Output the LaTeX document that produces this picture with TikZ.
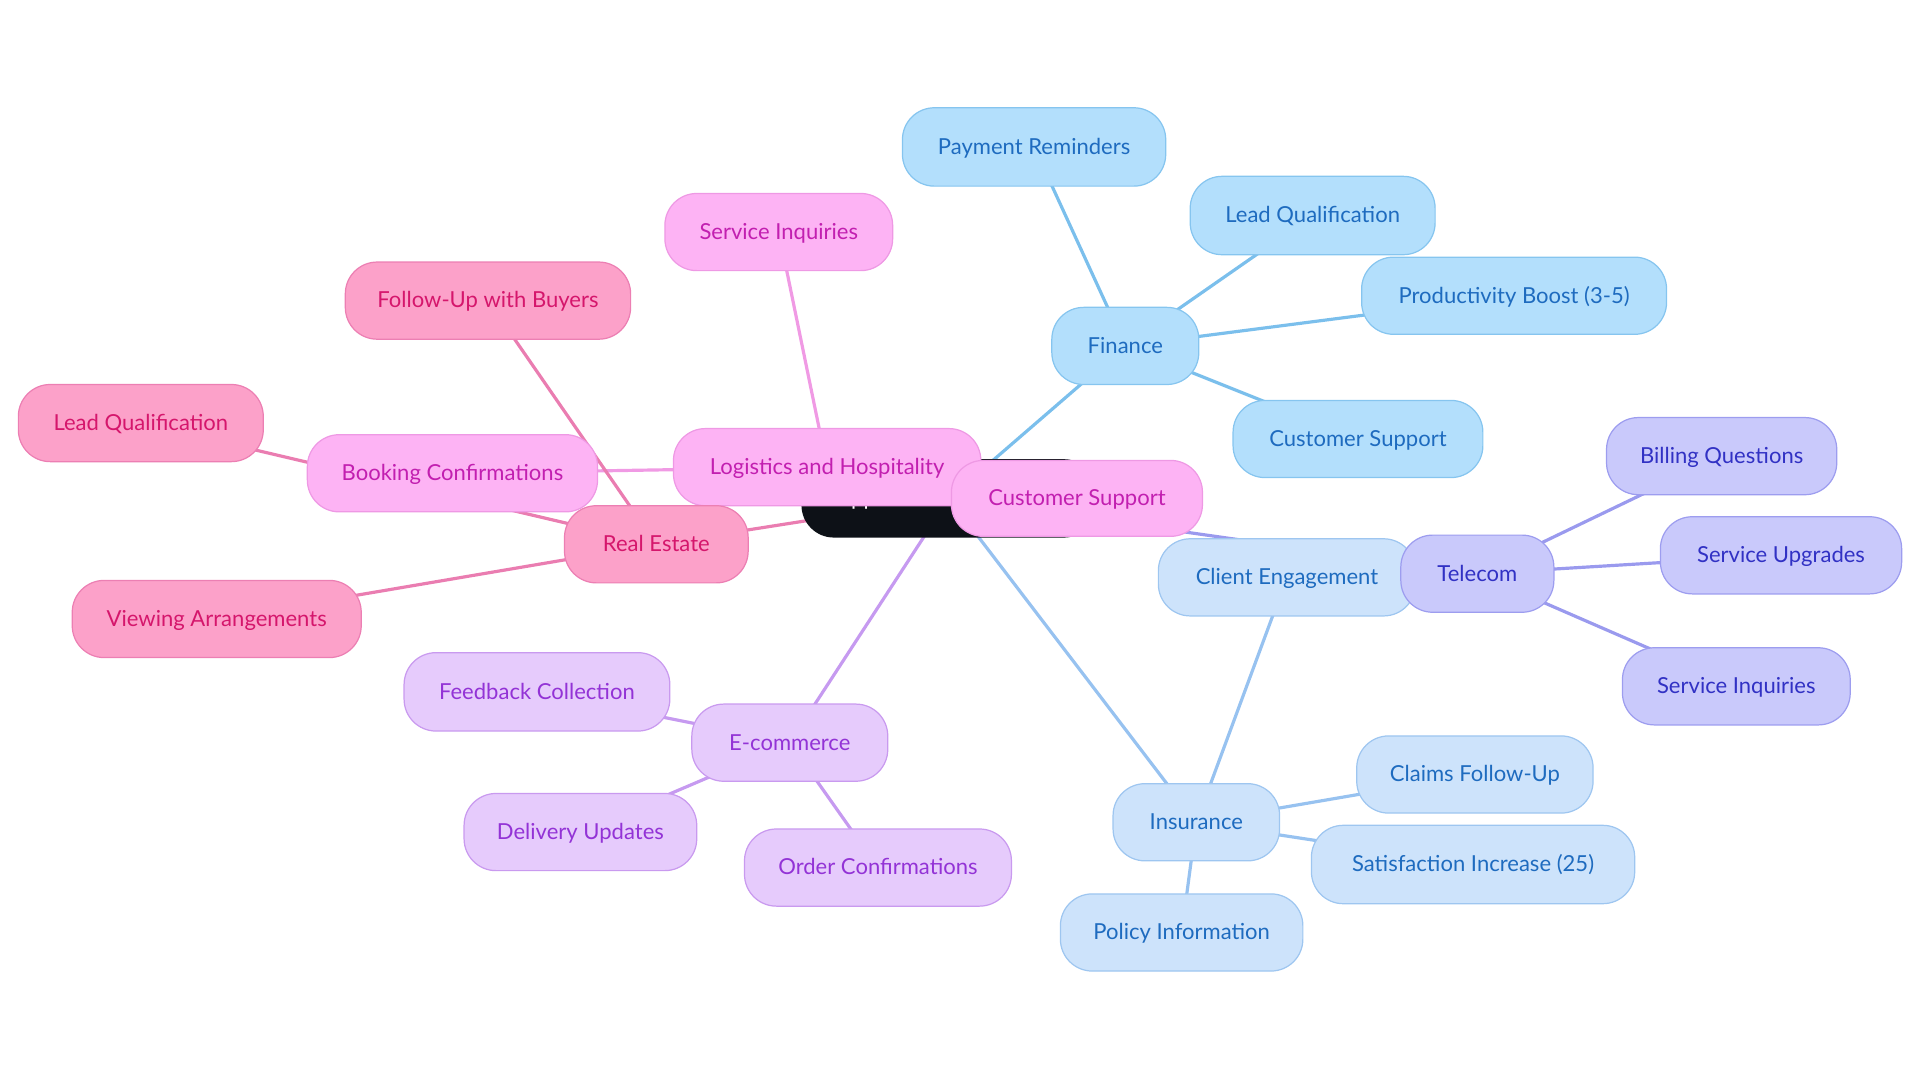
\documentclass[tikz,border=0pt]{standalone}
\usepackage{fontspec}
\setmainfont{Lato}
\pgfdeclarelayer{bg}
\pgfsetlayers{bg,main}
\definecolor{rootF}{HTML}{0D1117}
\definecolor{finF}{HTML}{B3DFFC}\definecolor{finB}{HTML}{86C5EF}\definecolor{finT}{HTML}{1E6BBF}\definecolor{finE}{HTML}{7BBFEC}
\definecolor{insF}{HTML}{CDE3FB}\definecolor{insB}{HTML}{9EC6F0}\definecolor{insT}{HTML}{1E6BBF}\definecolor{insE}{HTML}{97C2F0}
\definecolor{telF}{HTML}{C9C9FB}\definecolor{telB}{HTML}{9D9DEF}\definecolor{telT}{HTML}{3131C4}\definecolor{telE}{HTML}{9A9AEE}
\definecolor{ecoF}{HTML}{E6CBFC}\definecolor{ecoB}{HTML}{C99AEF}\definecolor{ecoT}{HTML}{9333D6}\definecolor{ecoE}{HTML}{C69AF0}
\definecolor{logF}{HTML}{FDB3F4}\definecolor{logB}{HTML}{EE99E4}\definecolor{logT}{HTML}{C21FB0}\definecolor{logE}{HTML}{F09AE4}
\definecolor{reF}{HTML}{FCA1C9}\definecolor{reB}{HTML}{EC7FB3}\definecolor{reT}{HTML}{D5166C}\definecolor{reE}{HTML}{EA7DB1}
\tikzset{
  mm/.style={draw, rounded corners=26pt, line width=1pt, minimum height=63pt, inner sep=0pt,
    text height=14pt, text depth=2pt,
    font=\fontsize{18}{20}\selectfont, align=center},
  rootbox/.style={mm, fill=rootF, draw=rootF, text=white},
  finbox/.style={mm, fill=finF, draw=finB, text=finT},
  insbox/.style={mm, fill=insF, draw=insB, text=insT},
  telbox/.style={mm, fill=telF, draw=telB, text=telT},
  ecobox/.style={mm, fill=ecoF, draw=ecoB, text=ecoT},
  logbox/.style={mm, fill=logF, draw=logB, text=logT},
  rebox/.style={mm, fill=reF, draw=reB, text=reT},
  link/.style={line width=2.6pt},
}
\begin{document}
\begin{tikzpicture}[x=1pt,y=-1pt]
\useasboundingbox (0,0) rectangle (1568,884.4);
% root
\node[rootbox, minimum width=240pt, text width=184pt, align=left] (root) at (775,407) {Applications};
% Finance
\node[finbox, minimum width=120pt] (fin) at (919,282.5) {Finance};
\node[finbox, minimum width=215pt, minimum height=64pt] (payrem) at (844.5,120) {Payment Reminders};
\node[finbox, minimum width=200pt, minimum height=64pt] (leadf) at (1072,176) {Lead Qualification};
\node[finbox, minimum width=249pt] (prod) at (1236.5,241.5) {Productivity Boost (3-5)};
\node[finbox, minimum width=204pt] (csf) at (1109,358.5) {Customer Support};
% Insurance
\node[insbox, minimum width=136pt] (ins) at (977,671.5) {Insurance};
\node[insbox, minimum width=210pt] (ce) at (1051,471.5) {Client Engagement};
\node[insbox, minimum width=193pt] (claims) at (1204.5,632.5) {Claims Follow-Up};
\node[insbox, minimum width=264pt, minimum height=64pt] (satis) at (1203,706) {Satisfaction Increase (25)};
\node[insbox, minimum width=198pt] (policy) at (965,761.5) {Policy Information};
% Telecom
\node[telbox, minimum width=125pt] (tel) at (1206.5,468.5) {Telecom};
\node[telbox, minimum width=188pt] (bill) at (1406,372.5) {Billing Questions};
\node[telbox, minimum width=197pt] (upg) at (1454.5,453.5) {Service Upgrades};
\node[telbox, minimum width=186pt] (telinq) at (1418,560.5) {Service Inquiries};
% E-commerce
\node[ecobox, minimum width=160pt] (eco) at (645,606.5) {E-commerce};
\node[ecobox, minimum width=217pt, minimum height=64pt] (feed) at (438.5,565) {Feedback Collection};
\node[ecobox, minimum width=190pt] (deliv) at (474,679.5) {Delivery Updates};
\node[ecobox, minimum width=218pt] (order) at (717,708.5) {Order Confirmations};
% Logistics and Hospitality
\node[logbox, minimum width=251pt] (log) at (675.5,381.5) {Logistics and Hospitality};
\node[logbox, minimum width=186pt] (loginq) at (636,189.5) {Service Inquiries};
\node[logbox, minimum width=237pt] (book) at (369.5,386.5) {Booking Confirmations};
\node[logbox, minimum width=205pt, minimum height=62pt] (csl) at (879.5,407) {Customer Support};
% Real Estate
\node[rebox, minimum width=150pt] (re) at (536,444.5) {Real Estate};
\node[rebox, minimum width=233pt] (follow) at (398.5,245.5) {Follow-Up with Buyers};
\node[rebox, minimum width=200pt] (leadre) at (115,345.5) {Lead Qualification};
\node[rebox, minimum width=236pt] (view) at (177,505.5) {Viewing Arrangements};
% connectors
\begin{pgfonlayer}{bg}
\draw[link, finE] (root.center) -- (fin.center);
\draw[link, finE] (fin.center) -- (payrem.center);
\draw[link, finE] (fin.center) -- (leadf.center);
\draw[link, finE] (fin.center) -- (prod.center);
\draw[link, finE] (fin.center) -- (csf.center);
\draw[link, insE] (root.center) -- (ins.center);
\draw[link, insE] (ins.center) -- (ce.center);
\draw[link, insE] (ins.center) -- (claims.center);
\draw[link, insE] (ins.center) -- (satis.center);
\draw[link, insE] (ins.center) -- (policy.center);
\draw[link, telE] (root.center) -- (tel.center);
\draw[link, telE] (tel.center) -- (bill.center);
\draw[link, telE] (tel.center) -- (upg.center);
\draw[link, telE] (tel.center) -- (telinq.center);
\draw[link, ecoE] (root.center) -- (eco.center);
\draw[link, ecoE] (eco.center) -- (feed.center);
\draw[link, ecoE] (eco.center) -- (deliv.center);
\draw[link, ecoE] (eco.center) -- (order.center);
\draw[link, logE] (root.center) -- (log.center);
\draw[link, logE] (log.center) -- (loginq.center);
\draw[link, logE] (log.center) -- (book.center);
\draw[link, logE] (log.center) -- (csl.center);
\draw[link, reE] (root.center) -- (re.center);
\draw[link, reE] (re.center) -- (follow.center);
\draw[link, reE] (re.center) -- (leadre.center);
\draw[link, reE] (re.center) -- (view.center);
\end{pgfonlayer}
\end{tikzpicture}
\end{document}
